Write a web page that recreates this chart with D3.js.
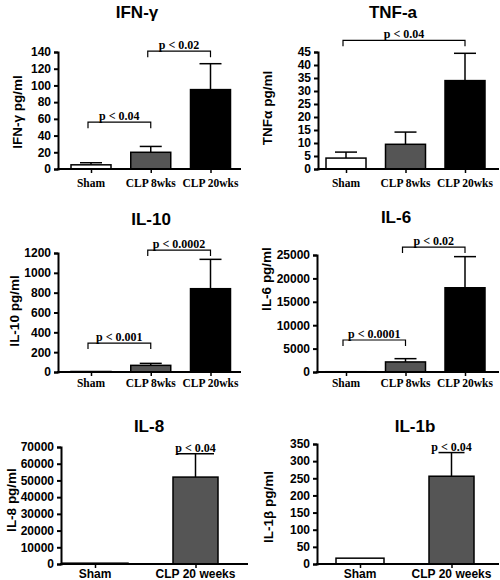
<!DOCTYPE html>
<html><head><meta charset="utf-8">
<script src="https://cdn.jsdelivr.net/npm/d3@7"></script>
<style>
html,body{margin:0;padding:0;background:#fff;}
svg{display:block;}
</style></head>
<body>
<svg id="chart" width="500" height="580"></svg>
<script>
// ---------- DATA ----------
const categories3 = ["Sham", "CLP 8wks", "CLP 20wks"];
const categories2 = ["Sham", "CLP 20 weeks"];

const ifnMeans = [5, 20, 95];
const ifnErr = [2.5, 7, 31];
const tnfMeans = [4.2, 9.5, 34];
const tnfErr = [2.3, 4.7, 10.5];
const il10Means = [5, 67, 840];
const il10Err = [0, 20, 296];
const il6Means = [60, 2150, 18000];
const il6Err = [0, 700, 6650];
const il8Means = [500, 52000];
const il8Err = [0, 14000];
const il1bMeans = [17, 256];
const il1bErr = [0, 69];

const ifnTicks = [0, 20, 40, 60, 80, 100, 120, 140];
const tnfTicks = [0, 5, 10, 15, 20, 25, 30, 35, 40, 45];
const il10Ticks = [0, 200, 400, 600, 800, 1000, 1200];
const il6Ticks = [0, 5000, 10000, 15000, 20000, 25000];
const il8Ticks = [0, 10000, 20000, 30000, 40000, 50000, 60000, 70000];
const il1bTicks = [0, 50, 100, 150, 200, 250, 300, 350];

const ifnBrackets = [{a: 0, b: 1, y: 56, label: "p < 0.04"}, {a: 1, b: 2, y: 141, label: "p < 0.02"}];
const tnfBrackets = [{a: 0, b: 2, y: 49.5, label: "p < 0.04"}];
const il10Brackets = [{a: 0, b: 1, y: 292, label: "p < 0.001"}, {a: 1, b: 2, y: 1230, label: "p < 0.0002"}];
const il6Brackets = [{a: 0, b: 1, y: 6840, label: "p < 0.0001"}, {a: 1, b: 2, y: 26700, label: "p < 0.02"}];
const il8Pvalue = "p < 0.04";
const il1bPvalue = "p < 0.04";

const titles = ["IFN-\u03b3", "TNF-a", "IL-10", "IL-6", "IL-8", "IL-1b"];
const yLabels = ["IFN-\u03b3 pg/ml", "TNF\u03b1 pg/ml", "IL-10 pg/ml", "IL-6 pg/ml", "IL-8 pg/ml", "IL-1\u03b2 pg/ml"];

// ---------- LAYOUT / STYLE ----------
const fills3 = ["#ffffff", "#555555", "#000000"];
const fills2 = ["#ffffff", "#555555"];
const SANS = "Arial, 'Liberation Sans', sans-serif";
const SERIF = "'Times New Roman', 'Liberation Serif', serif";

const panels = [
  {cats: categories3, means: ifnMeans, err: ifnErr, ticks: ifnTicks, brackets: ifnBrackets, fills: fills3,
   ax: 58, axEnd: 241, y0: 169, yTop: 52, c0: 91, c1: 210.5, barW: [40, 40, 40], capW: 22,
   title: titles[0], tx: 137, ty: 18, ylab: yLabels[0], lx: 17, ly: 112, xFont: SERIF, xLabY: 187, xFs: 11.5},
  {cats: categories3, means: tnfMeans, err: tnfErr, ticks: tnfTicks, brackets: tnfBrackets, fills: fills3,
   ax: 318, axEnd: 499, y0: 169, yTop: 52, c0: 346, c1: 465, barW: [40, 40, 40], capW: 22,
   title: titles[1], tx: 393, ty: 18, ylab: yLabels[1], lx: 267, ly: 108, xFont: SERIF, xLabY: 187, xFs: 11.5},
  {cats: categories3, means: il10Means, err: il10Err, ticks: il10Ticks, brackets: il10Brackets, fills: fills3,
   ax: 58, axEnd: 241, y0: 372, yTop: 253, c0: 91, c1: 210.5, barW: [40, 40, 40], capW: 22,
   title: titles[2], tx: 151, ty: 225, ylab: yLabels[2], lx: 14, ly: 311, xFont: SERIF, xLabY: 387, xFs: 11.5},
  {cats: categories3, means: il6Means, err: il6Err, ticks: il6Ticks, brackets: il6Brackets, fills: fills3,
   ax: 317, axEnd: 499, y0: 372, yTop: 255, c0: 346, c1: 465, barW: [40, 40, 40], capW: 22,
   title: titles[3], tx: 396, ty: 223, ylab: yLabels[3], lx: 266, ly: 279, xFont: SERIF, xLabY: 387, xFs: 11.5},
  {cats: categories2, means: il8Means, err: il8Err, ticks: il8Ticks, pval: il8Pvalue, fills: fills2,
   ax: 61, axEnd: 248, y0: 564, yTop: 447, c0: 95, c1: 195.5, barW: [66, 45], capW: 37,
   title: titles[4], tx: 149, ty: 432, ylab: yLabels[4], lx: 11, ly: 500, xFont: SANS, xLabY: 578, xFs: 12},
  {cats: categories2, means: il1bMeans, err: il1bErr, ticks: il1bTicks, pval: il1bPvalue, fills: fills2,
   ax: 317, axEnd: 499, y0: 564, yTop: 444, c0: 360, c1: 451.5, barW: [48, 45], capW: 26,
   title: titles[5], tx: 415, ty: 432, ylab: yLabels[5], lx: 268, ly: 507, xFont: SANS, xLabY: 578, xFs: 12}
];

// ---------- DRAW ----------
const svg = d3.select("#chart");

panels.forEach(p => {
  const g = svg.append("g");
  const maxT = p.ticks[p.ticks.length - 1];
  const y = d3.scaleLinear().domain([0, maxT]).range([p.y0, p.yTop]);
  const x = d3.scalePoint().domain(p.cats).range([p.c0, p.c1]);
  const data = p.cats.map((c, i) => ({cat: c, mean: p.means[i], err: p.err[i], fill: p.fills[i], w: p.barW[i]}));

  // error bars (drawn before bars so the bar covers the lower part)
  data.filter(d => d.err > 0).forEach(d => {
    g.append("line").attr("x1", x(d.cat)).attr("x2", x(d.cat))
      .attr("y1", y(d.mean)).attr("y2", y(d.mean + d.err))
      .attr("stroke", "#000").attr("stroke-width", 1.5);
    g.append("line").attr("x1", x(d.cat) - p.capW / 2).attr("x2", x(d.cat) + p.capW / 2)
      .attr("y1", y(d.mean + d.err)).attr("y2", y(d.mean + d.err))
      .attr("stroke", "#000").attr("stroke-width", 1.5);
  });

  // bars
  g.selectAll("rect.bar").data(data).join("rect").attr("class", "bar")
    .attr("x", d => x(d.cat) - d.w / 2)
    .attr("width", d => d.w)
    .attr("y", d => y(d.mean))
    .attr("height", d => Math.max(0, y(0) - y(d.mean)))
    .attr("fill", d => d.fill)
    .attr("stroke", "#000").attr("stroke-width", 1.5);

  // y axis
  const yAxis = d3.axisLeft(y).tickValues(p.ticks).tickSize(4).tickPadding(3).tickFormat(d3.format("d"));
  const ya = g.append("g").attr("transform", `translate(${p.ax},0)`).call(yAxis);
  ya.select(".domain").attr("stroke-width", 2);
  ya.selectAll(".tick line").attr("stroke-width", 2);
  ya.selectAll(".tick text").attr("font-family", SANS).attr("font-weight", "bold").attr("font-size", 12).attr("fill", "#000");

  // x axis
  const xAxis = d3.axisBottom(x).tickSize(4).tickFormat("");
  const xa = g.append("g").attr("transform", `translate(0,${p.y0})`).call(xAxis);
  xa.select(".domain").remove();
  xa.selectAll(".tick line").attr("stroke-width", 1.5);
  g.append("line").attr("x1", p.ax - 1).attr("x2", p.axEnd).attr("y1", p.y0).attr("y2", p.y0)
    .attr("stroke", "#000").attr("stroke-width", 2);

  // x labels
  g.selectAll("text.xl").data(p.cats).join("text").attr("class", "xl")
    .attr("x", d => x(d)).attr("y", p.xLabY)
    .attr("text-anchor", "middle").attr("font-family", p.xFont).attr("font-weight", "bold")
    .attr("font-size", p.xFs).text(d => d);

  // title
  g.append("text").attr("x", p.tx).attr("y", p.ty).attr("text-anchor", "middle")
    .attr("font-family", SANS).attr("font-weight", "bold").attr("font-size", 17).text(p.title);

  // y label
  g.append("text").attr("transform", `translate(${p.lx},${p.ly}) rotate(-90)`)
    .attr("text-anchor", "middle").attr("dominant-baseline", "central")
    .attr("font-family", SANS).attr("font-weight", "bold").attr("font-size", 13.5).text(p.ylab);

  // brackets
  (p.brackets || []).forEach(b => {
    const xa1 = x(p.cats[b.a]) - 3, xb1 = x(p.cats[b.b]);
    const yb = y(b.y);
    g.append("path").attr("d", `M${xa1},${yb + 6}V${yb}H${xb1}V${yb + 6}`)
      .attr("fill", "none").attr("stroke", "#000").attr("stroke-width", 1.2);
    g.append("text").attr("x", (xa1 + xb1) / 2).attr("y", yb - 2).attr("text-anchor", "middle")
      .attr("font-family", SERIF).attr("font-weight", "bold").attr("font-size", 12).text(b.label);
  });

  // p-value above error bar (bottom panels)
  if (p.pval) {
    const d = data[data.length - 1];
    g.append("text").attr("x", x(d.cat)).attr("y", y(d.mean + d.err) - 2).attr("text-anchor", "middle")
      .attr("font-family", SERIF).attr("font-weight", "bold").attr("font-size", 12).text(p.pval);
  }
});
</script>
</body></html>
